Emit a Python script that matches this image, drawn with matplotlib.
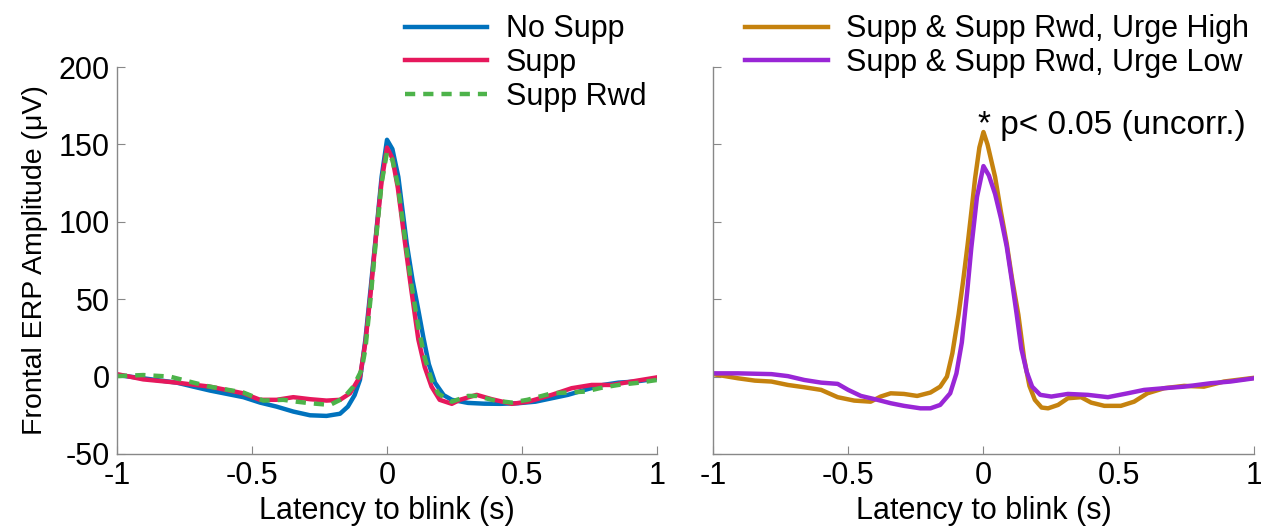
import matplotlib
matplotlib.use("Agg")
import matplotlib.pyplot as plt

plt.rcParams['font.family'] = ['Liberation Sans', 'DejaVu Sans']
plt.rcParams['axes.unicode_minus'] = False

# values (latency in s, amplitude in uV)
nosupp_x = [-1.0, -0.903, -0.779, -0.717, -0.656, -0.532, -0.47, -0.409, -0.347, -0.285,
            -0.224, -0.174, -0.145, -0.12, -0.10, -0.08, -0.06, -0.04, -0.02, 0.0,
            0.02, 0.042, 0.073, 0.095, 0.116, 0.135, 0.155, 0.178, 0.21, 0.24,
            0.30, 0.36, 0.42, 0.486, 0.55, 0.61, 0.67, 0.733, 0.80, 0.857, 0.92, 0.98, 1.0]
nosupp_y = [1, -1.1, -3.9, -6.5, -9, -13.3, -16.8, -19.4, -22.6, -25,
            -25.4, -24, -19.4, -12, -2, 24, 58, 93, 129, 153,
            147, 129, 86, 62, 43, 25, 8, -4, -12, -15,
            -17, -17.5, -17.6, -17.2, -16.2, -14, -11.8, -8.6, -5.4, -3.9, -3.2, -1.8, -1.1]

supp_x = [-1.0, -0.903, -0.779, -0.656, -0.532, -0.47, -0.409, -0.347, -0.285, -0.224,
          -0.174, -0.137, -0.10, -0.08, -0.06, -0.04, -0.02, 0.0,
          0.02, 0.04, 0.07, 0.09, 0.116, 0.14, 0.165, 0.195, 0.24, 0.27,
          0.332, 0.388, 0.462, 0.523, 0.61, 0.684, 0.758, 0.832, 0.906, 1.0]
supp_y = [1.6, -1.8, -3.9, -6.5, -10.8, -15, -15, -13.3, -14.6, -15.5,
          -15, -10.8, 0, 22, 55, 92, 126, 148,
          141, 122, 82, 56, 24, 6, -6.5, -15, -17.6, -15,
          -11.8, -14.6, -17.6, -16.2, -11.8, -7.5, -5.4, -5.4, -3.2, -0.5]

supprwd_x = [-1.0, -0.903, -0.804, -0.717, -0.656, -0.532, -0.458, -0.384, -0.335, -0.285,
             -0.211, -0.162, -0.125, -0.094, -0.08, -0.06, -0.04, -0.02, 0.0,
             0.02, 0.04, 0.07, 0.09, 0.116, 0.14, 0.165, 0.19, 0.24, 0.30,
             0.332, 0.40, 0.462, 0.52, 0.61, 0.733, 0.80, 0.857, 0.93, 0.98, 1.0]
supprwd_y = [0.3, 1, 0, -3.9, -6.5, -10.3, -15.5, -15, -16.2, -17.2,
             -18.3, -14, -6.5, 4.3, 18, 52, 90, 125, 145,
             140, 124, 85, 60, 32, 12, -2, -11, -16.2, -12.5,
             -12.5, -15.5, -16.8, -15, -10.8, -9.7, -7, -5.4, -4, -2.7, -2.2]

high_x = [-1.0, -0.907, -0.845, -0.784, -0.723, -0.662, -0.60, -0.539, -0.478, -0.417,
          -0.38, -0.343, -0.294, -0.245, -0.196, -0.16, -0.135, -0.115, -0.092, -0.075,
          -0.058, -0.045, -0.031, -0.015, 0.0, 0.015, 0.043, 0.065, 0.086, 0.105,
          0.129, 0.15, 0.17, 0.19, 0.215, 0.239, 0.276, 0.312, 0.361, 0.398,
          0.447, 0.508, 0.557, 0.606, 0.668, 0.742, 0.815, 0.889, 1.0]
high_y = [1.6, -1.1, -2.6, -3.2, -5.4, -6.9, -8.6, -13.3, -15.5, -16.2,
          -12.9, -10.8, -11.2, -12.5, -10.3, -6.5, 0, 15, 40, 62,
          86, 106, 128, 148, 158, 150, 129, 106, 86, 64,
          40, 12, -6, -15, -20, -20.5, -18.3, -14, -13.3, -16.8,
          -18.9, -18.9, -16.2, -10.8, -7.5, -6, -6.5, -3.2, -0.8]

low_x = [-1.0, -0.907, -0.784, -0.723, -0.662, -0.60, -0.539, -0.50, -0.453, -0.392,
         -0.343, -0.294, -0.233, -0.196, -0.16, -0.123, -0.10, -0.08, -0.06, -0.045,
         -0.024, 0.0, 0.02, 0.043, 0.065, 0.086, 0.105, 0.123, 0.14, 0.16,
         0.18, 0.21, 0.251, 0.312, 0.386, 0.46, 0.533, 0.594, 0.668, 0.742,
         0.84, 0.913, 1.0]
low_y = [2.1, 2.1, 1.6, 0.3, -2.2, -3.9, -4.7, -8.6, -12.5, -15,
         -17.2, -18.9, -20.5, -20.5, -18.3, -10.8, 2, 22, 55, 83,
         116, 136, 130, 118, 102, 84, 62, 40, 18, 3,
         -6.5, -11.8, -12.9, -11.2, -11.8, -13.3, -10.8, -8.6, -7.5, -6.5,
         -4.3, -3.2, -1.1]

x_ticks = [-1, -0.5, 0, 0.5, 1]
x_tick_labels = ['-1', '-0.5', '0', '0.5', '1']
y_ticks = [-50, 0, 50, 100, 150, 200]

fs = 22

fig = plt.figure(figsize=(12.61, 5.29), dpi=100)
ax1 = fig.add_axes([0.0928, 0.1418, 0.4282, 0.7315])
ax2 = fig.add_axes([0.5654, 0.1418, 0.4290, 0.7315])

lw = 3.2
l1, = ax1.plot(nosupp_x, nosupp_y, color='#0072BD', lw=lw, label='No Supp')
l2, = ax1.plot(supp_x, supp_y, color='#E6185C', lw=lw, label='Supp')
l3, = ax1.plot(supprwd_x, supprwd_y, color='#4DB34A', lw=lw, dashes=(2.3, 1.8), label='Supp Rwd')

l4, = ax2.plot(high_x, high_y, color='#C5820E', lw=lw, label='Supp & Supp Rwd, Urge High')
l5, = ax2.plot(low_x, low_y, color='#9926D6', lw=lw, label='Supp & Supp Rwd, Urge Low')

for ax in (ax1, ax2):
    ax.set_xlim(-1, 1)
    ax.set_ylim(-50, 200)
    ax.set_xticks(x_ticks)
    ax.set_xticklabels(x_tick_labels)
    ax.set_yticks(y_ticks)
    ax.spines['top'].set_visible(False)
    ax.spines['right'].set_visible(False)
    for s in ('left', 'bottom'):
        ax.spines[s].set_color('#888888')
        ax.spines[s].set_linewidth(1)
    ax.tick_params(direction='in', length=6, color='#888888', labelsize=fs, pad=5)
    ax.set_xlabel('Latency to blink (s)', fontsize=fs, labelpad=4)

ax1.set_ylabel('Frontal ERP Amplitude (\u03bcV)', fontsize=20.5, labelpad=8)
ax2.set_yticklabels([])

ax2.text(-0.022, 162, '* p< 0.05 (uncorr.)', fontsize=24, ha='left', va='center')

leg_kw = dict(loc='upper left', frameon=False, fontsize=fs, handlelength=2.7,
              handletextpad=0.6, labelspacing=0.12, borderpad=0, borderaxespad=0)
fig.legend(handles=[l1, l2, l3], bbox_to_anchor=(0.321, 0.973), **leg_kw)
fig.legend(handles=[l4, l5], bbox_to_anchor=(0.591, 0.973), **leg_kw)

fig.savefig('out.png', dpi=100)
